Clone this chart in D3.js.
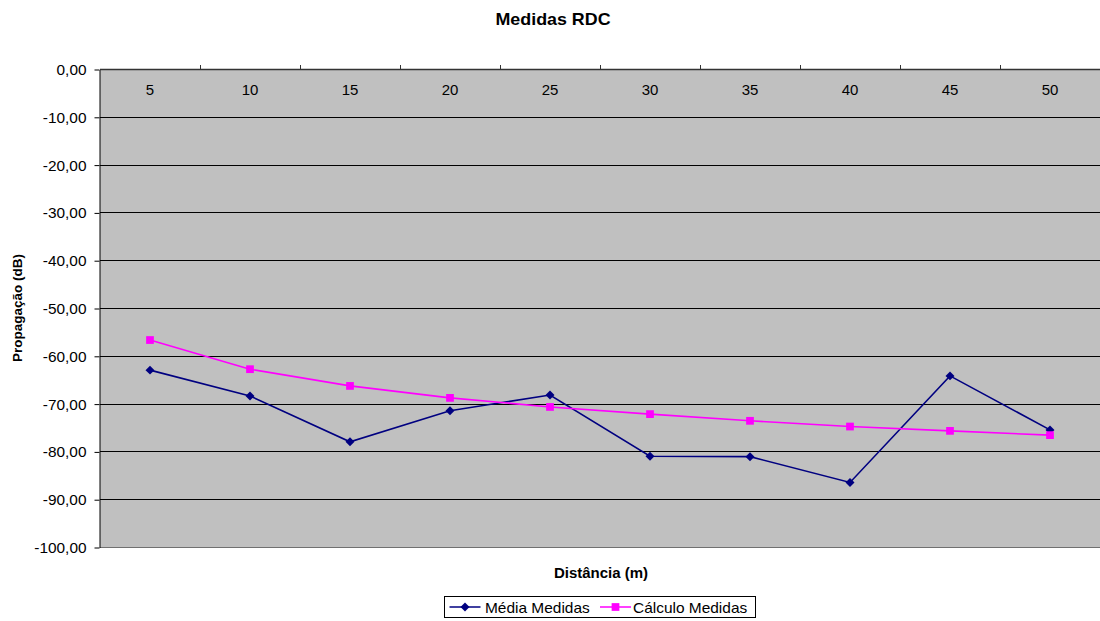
<!DOCTYPE html>
<html>
<head>
<meta charset="utf-8">
<script src="https://cdn.jsdelivr.net/npm/d3@7"></script>
<style>
  html, body { margin: 0; padding: 0; background: #fff; }
  svg { display: block; font-family: "Liberation Sans", Arial, sans-serif; }
</style>
</head>
<body>
<svg id="chart" width="1100" height="621"></svg>
<script>
// Distance categories (m)
const distances = ["5", "10", "15", "20", "25", "30", "35", "40", "45", "50"];
// Measured average propagation (dB)
const mediaMedidas = [-63.0, -68.4, -78.0, -71.5, -68.2, -81.0, -81.1, -86.5, -64.2, -75.5];
// Calculated propagation (dB)
const calculoMedidas = [-56.7, -62.8, -66.3, -68.8, -70.7, -72.2, -73.6, -74.8, -75.7, -76.6];
// Value axis ticks
const yTicks = [0, -10, -20, -30, -40, -50, -60, -70, -80, -90, -100];

const svg = d3.select("#chart");
const plot = { left: 100, right: 1100, top: 69, bottom: 547 };

const x = d3.scaleBand().domain(distances).range([plot.left, plot.right]);
const y = d3.scaleLinear().domain([-100, 0]).range([plot.bottom, plot.top]);

const fmt = v => d3.format(".2f")(v).replace(".", ",").replace("−", "-");

// Widen text horizontally by a factor, keeping its anchor
function widen(sel, factor) {
  sel.each(function () {
    const w = this.getComputedTextLength();
    d3.select(this).attr("textLength", w * factor).attr("lengthAdjust", "spacingAndGlyphs");
  });
}

// Plot background
svg.append("rect")
  .attr("x", plot.left).attr("y", plot.top)
  .attr("width", plot.right - plot.left).attr("height", plot.bottom - plot.top)
  .attr("fill", "#c0c0c0");

// Horizontal gridlines
svg.append("g").selectAll("line").data(yTicks.filter(d => d !== 0)).join("line")
  .attr("x1", plot.left).attr("x2", plot.right)
  .attr("y1", d => Math.round(y(d)) + 0.5).attr("y2", d => Math.round(y(d)) + 0.5)
  .attr("stroke", d => d === -100 ? "#707070" : "#000").attr("stroke-width", 1);

// Value axis (left)
const yAxis = svg.append("g")
  .attr("transform", `translate(${plot.left - 0.5},0.5)`)
  .call(d3.axisLeft(y).tickValues(yTicks).tickFormat(fmt).tickSize(5).tickPadding(8).tickSizeOuter(0));
yAxis.select(".domain").attr("stroke", "#000");
yAxis.selectAll(".tick line").attr("stroke", "#000");
yAxis.selectAll(".tick text")
  .attr("font-size", 14).attr("fill", "#000")
  .attr("dy", "0.36em")
  .attr("font-family", "Liberation Sans, Arial, sans-serif")
  .call(widen, 1.1);

// Category axis along the top at zero, labels inside the plot
const xAxisLine = svg.append("g");
xAxisLine.append("line")
  .attr("x1", plot.left).attr("x2", plot.right)
  .attr("y1", y(0) + 0.5).attr("y2", y(0) + 0.5)
  .attr("stroke", "#333").attr("stroke-width", 1.5);
const boundaries = distances.slice(1).map(d => x(d));
xAxisLine.selectAll("line.tk").data(boundaries).join("line")
  .attr("class", "tk")
  .attr("x1", d => Math.round(d) + 0.5).attr("x2", d => Math.round(d) + 0.5)
  .attr("y1", y(0) - 4).attr("y2", y(0))
  .attr("stroke", "#333");
xAxisLine.selectAll("text").data(distances).join("text")
  .attr("x", d => x(d) + x.bandwidth() / 2)
  .attr("y", y(0) + 26)
  .attr("text-anchor", "middle")
  .attr("font-size", 14)
  .attr("fill", "#000")
  .text(d => d)
  .call(widen, 1.07);

// Series
const series = [
  { name: "Média Medidas", values: mediaMedidas, color: "#000080", shape: d3.symbolSquare, size: 40, rotate: 45 },
  { name: "Cálculo Medidas", values: calculoMedidas, color: "#ff00ff", shape: d3.symbolSquare, size: 60, rotate: 0 }
];

const line = d3.line()
  .x((d, i) => x(distances[i]) + x.bandwidth() / 2)
  .y(d => y(d));

series.forEach(s => {
  const g = svg.append("g");
  g.append("path")
    .datum(s.values)
    .attr("d", line)
    .attr("fill", "none")
    .attr("stroke", s.color)
    .attr("stroke-width", 1.6);
  g.selectAll("path.m").data(s.values).join("path")
    .attr("class", "m")
    .attr("transform", (d, i) => `translate(${x(distances[i]) + x.bandwidth() / 2},${y(d)}) rotate(${s.rotate})`)
    .attr("d", d3.symbol().type(s.shape).size(s.size))
    .attr("fill", s.color);
});

// Title
svg.append("text")
  .attr("x", 553).attr("y", 25)
  .attr("text-anchor", "middle")
  .attr("font-size", 17).attr("font-weight", "bold")
  .text("Medidas RDC")
  .call(widen, 1.05);

// Axis titles
svg.append("text")
  .attr("x", 601).attr("y", 577.5)
  .attr("text-anchor", "middle")
  .attr("font-size", 15).attr("font-weight", "bold")
  .text("Distância (m)");

svg.append("text")
  .attr("transform", `translate(21.5,${(plot.top + plot.bottom) / 2}) rotate(-90)`)
  .attr("text-anchor", "middle")
  .attr("font-size", 13.5).attr("font-weight", "bold")
  .text("Propagação (dB)");

// Legend
const legend = svg.append("g").attr("transform", "translate(444.5,596.5)");
legend.append("rect")
  .attr("width", 311).attr("height", 21)
  .attr("fill", "#fff").attr("stroke", "#000").attr("stroke-width", 1);
const legendItems = [
  { s: series[0], x0: 5, tx: 40.5 },
  { s: series[1], x0: 155.5, tx: 188.5 }
];
legendItems.forEach(it => {
  const g = legend.append("g");
  g.append("line")
    .attr("x1", it.x0).attr("x2", it.x0 + 31)
    .attr("y1", 10.5).attr("y2", 10.5)
    .attr("stroke", it.s.color).attr("stroke-width", 1.5);
  g.append("path")
    .attr("transform", `translate(${it.x0 + 15.5},10.5) rotate(${it.s.rotate})`)
    .attr("d", d3.symbol().type(it.s.shape).size(it.s.size))
    .attr("fill", it.s.color);
  g.append("text")
    .attr("x", it.tx).attr("y", 16)
    .attr("font-size", 15)
    .attr("fill", "#000")
    .text(it.s.name)
    .call(widen, 1.03);
});
</script>
</body>
</html>
